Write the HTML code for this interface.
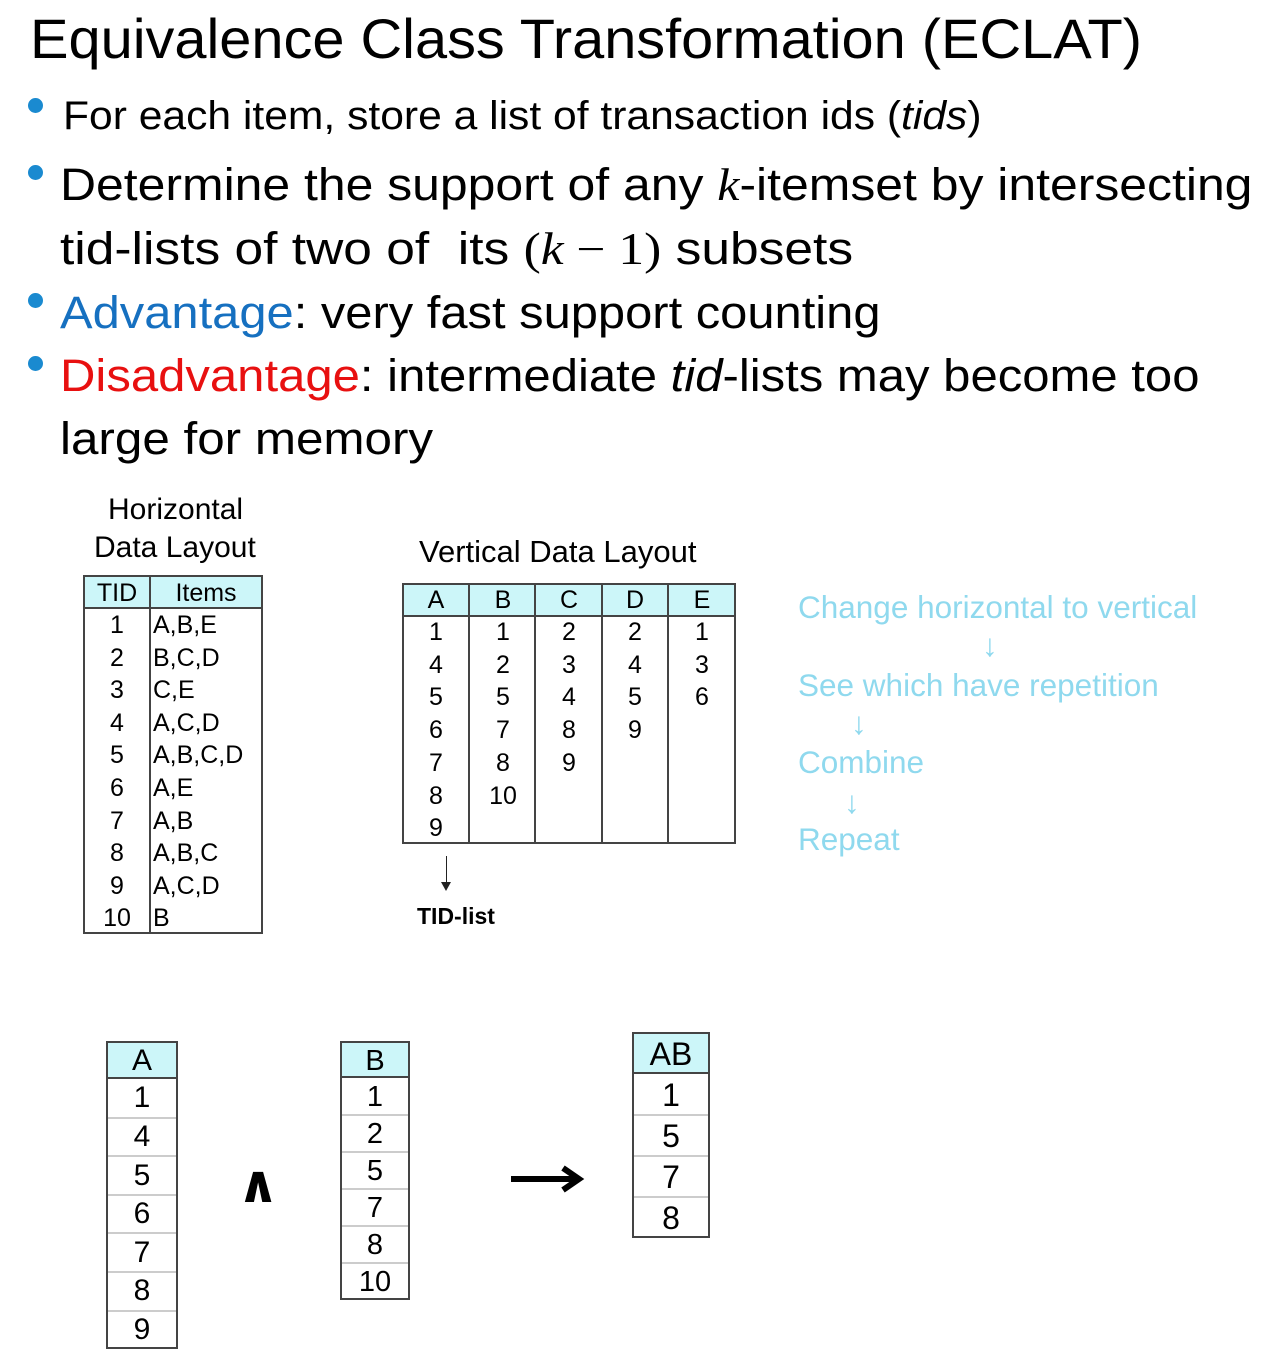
<!DOCTYPE html>
<html><head><meta charset="utf-8">
<style>
body{margin:0;width:1276px;height:1372px;background:#fff;position:relative;overflow:hidden;font-family:"Liberation Sans",sans-serif;color:#000}
.a{position:absolute;white-space:nowrap}
.fit{position:absolute;white-space:nowrap;transform-origin:0 0;font-family:"Liberation Sans",sans-serif}
.dot{position:absolute;width:15px;height:15px;border-radius:50%;background:#1a8ad0}
.m{font-family:"Liberation Serif",serif;font-style:italic}
.box{position:absolute;border:2px solid #444;box-sizing:border-box}
.hd{position:absolute;background:#ccf6f9;border-bottom:2px solid #444;box-sizing:border-box}
.vl{position:absolute;width:2px;background:#444}
.hl{position:absolute;height:2px;background:#ccc}
.c{position:absolute;text-align:center;font-size:25px;line-height:30px}
.cy{color:#8fd9ee;font-size:31.5px;position:absolute;white-space:nowrap}
</style></head><body>

<div class="fit" style="left:30px;top:6px;font-size:56px;--w:1112px">Equivalence Class Transformation (ECLAT)</div>

<div class="dot" style="left:28px;top:98px"></div>
<div class="fit" style="left:63px;top:94px;font-size:40px;--w:919px">For each item, store a list of transaction ids (<i>tids</i>)</div>
<div class="dot" style="left:28px;top:165px"></div>
<div class="fit" style="left:60px;top:159px;font-size:45px;--w:1193px">Determine the support of any <span class="m">k</span>-itemset by intersecting</div>
<div class="fit" style="left:60px;top:223px;font-size:45px;--w:793px">tid-lists of two of &nbsp;its <span class="m" style="font-style:normal">(<i>k</i> − 1)</span> subsets</div>
<div class="dot" style="left:28px;top:293px"></div>
<div class="fit" style="left:60px;top:287px;font-size:45px;--w:820px"><span style="color:#1670c0">Advantage</span>: very fast support counting</div>
<div class="dot" style="left:28px;top:356px"></div>
<div class="fit" style="left:60px;top:350px;font-size:45px;--w:1140px"><span style="color:#e81010">Disadvantage</span>: intermediate <i>tid</i>-lists may become too</div>
<div class="fit" style="left:60px;top:413px;font-size:45px;--w:373px">large for memory</div>

<!-- Horizontal -->
<div class="a" style="left:108px;top:493px;font-size:30px">Horizontal</div>
<div class="a" style="left:94px;top:531px;font-size:30px">Data Layout</div>
<div class="box" style="left:83px;top:575px;width:180px;height:359px"></div>
<div class="hd" style="left:85px;top:577px;width:176px;height:32px"></div>
<div class="vl" style="left:149px;top:577px;height:355px"></div>
<div class="c" style="left:85px;top:578px;width:64px">TID</div>
<div class="c" style="left:151px;top:578px;width:110px">Items</div>

<!-- Vertical -->
<div class="a" style="left:419px;top:534px;font-size:31px">Vertical Data Layout</div>
<div class="box" style="left:402px;top:583px;width:334px;height:261px"></div>
<div class="hd" style="left:404px;top:585px;width:330px;height:32px"></div>
<div class="vl" style="left:468px;top:585px;height:257px"></div>
<div class="vl" style="left:534px;top:585px;height:257px"></div>
<div class="vl" style="left:601px;top:585px;height:257px"></div>
<div class="vl" style="left:667px;top:585px;height:257px"></div>
<div class="vl" style="left:446px;top:856px;height:30px;width:1px;background:#222"></div>
<div class="a" style="left:441px;top:882px;width:0;height:0;border-left:5px solid transparent;border-right:5px solid transparent;border-top:9px solid #222"></div>
<div class="a" style="left:417px;top:903px;font-size:23px;font-weight:bold">TID-list</div>

<div class="cy" style="left:798px;top:589px">Change horizontal to vertical</div>
<div class="cy" style="left:982px;top:627px">↓</div>
<div class="cy" style="left:798px;top:667px">See which have repetition</div>
<div class="cy" style="left:851px;top:705px">↓</div>
<div class="cy" style="left:798px;top:744px">Combine</div>
<div class="cy" style="left:844px;top:784px">↓</div>
<div class="cy" style="left:798px;top:821px">Repeat</div>

<div class="a" style="left:237px;top:1155px;font-size:52px;font-weight:bold;font-family:'DejaVu Sans',sans-serif">∧</div>
<svg class="a" style="left:505px;top:1160px" width="80" height="40"><line x1="6" y1="19" x2="72" y2="19" stroke="#000" stroke-width="6"/><polyline points="58,8 74,19 58,30" fill="none" stroke="#000" stroke-width="6"/></svg>

<script>
function cell(p,x,y,w,t,fs,al){var d=document.createElement('div');d.className='c';d.style.left=x+'px';d.style.top=(y-15)+'px';d.style.width=w+'px';if(fs)d.style.fontSize=fs+'px';if(al){d.style.textAlign='left'}d.textContent=t;p.appendChild(d);}
var b=document.body;
var H=["A,B,E","B,C,D","C,E","A,C,D","A,B,C,D","A,E","A,B","A,B,C","A,C,D","B"];
for(var i=0;i<10;i++){var y=625+i*32.6;cell(b,85,y,64,String(i+1));cell(b,153,y,110,H[i],0,1);}
var V=[["A",1,4,5,6,7,8,9],["B",1,2,5,7,8,10],["C",2,3,4,8,9],["D",2,4,5,9],["E",1,3,6]];
var cx=[436,503,569,635,702];
for(var c=0;c<5;c++){cell(b,cx[c]-30,600,60,V[c][0]);for(var r=1;r<V[c].length;r++)cell(b,cx[c]-30,632+(r-1)*32.7,60,String(V[c][r]));}
function col(x,y,w,hh,rh,items,fs){var n=items.length-1;var tot=hh+rh*n;
 var bx=document.createElement('div');bx.className='box';bx.style.cssText='left:'+x+'px;top:'+y+'px;width:'+w+'px;height:'+tot+'px';b.appendChild(bx);
 var h=document.createElement('div');h.className='hd';h.style.cssText='left:'+(x+2)+'px;top:'+(y+2)+'px;width:'+(w-4)+'px;height:'+(hh-2)+'px';b.appendChild(h);
 cell(b,x,y+hh/2+1,w,items[0],fs);
 for(var i=1;i<=n;i++){var ty=y+hh+(i-1)*rh;if(i>1){var l=document.createElement('div');l.className='hl';l.style.cssText='left:'+(x+2)+'px;top:'+(ty-1)+'px;width:'+(w-4)+'px';b.appendChild(l);}cell(b,x,ty+rh/2,w,items[i],fs);}
}
col(106,1041,72,38,38.6,["A","1","4","5","6","7","8","9"],30);
col(340,1041,70,37,37,["B","1","2","5","7","8","10"],29);
col(632,1032,78,42,41,["AB","1","5","7","8"],32);
document.querySelectorAll('.fit').forEach(function(e){var w=parseFloat(getComputedStyle(e).getPropertyValue('--w'));var s=w/e.scrollWidth;e.style.transform='scaleX('+s+')';});
</script>
</body></html>
